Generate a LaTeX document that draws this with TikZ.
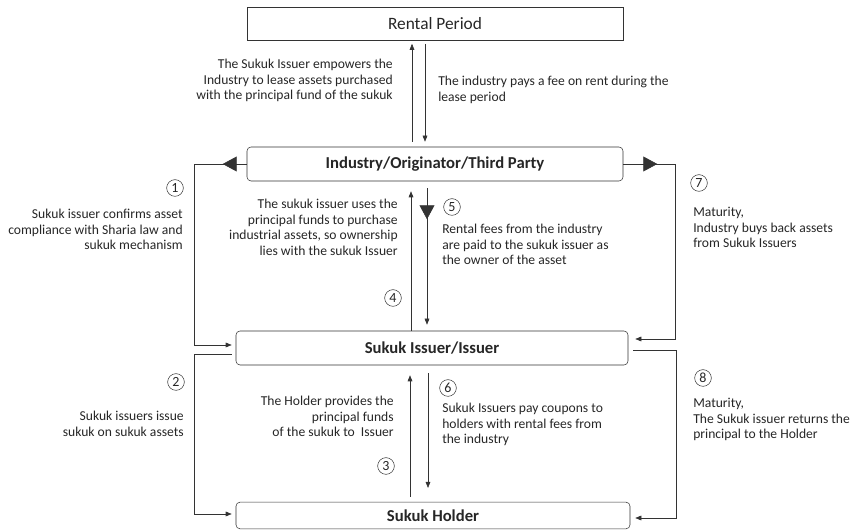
\documentclass[tikz,border=0pt]{standalone}
\usepackage{fontspec}
\setmainfont{Carlito}
\usetikzlibrary{arrows.meta,calc,decorations.markings}

\begin{document}
\begin{tikzpicture}[x=0.75pt,y=-0.75pt,
    every node/.style={text=black!85},
    txt/.style={font=\fontsize{10.2}{11.7}\selectfont, inner sep=0pt},
    num/.style={circle, draw=black!80, inner sep=0pt, minimum size=12.5pt, font=\fontsize{10.5}{11}\selectfont},
    sqbox/.style={draw=black!80, minimum width=282pt, minimum height=24.75pt, font=\fontsize{13}{15}\selectfont},
    rbox/.style={draw=black!80, rounded corners=3pt, minimum height=25.5pt, font=\bfseries\fontsize{12.5}{14}\selectfont},
    arr/.style={draw=black!80, -{Triangle[length=4.5pt,width=3.5pt]}},
    bigtip/.style={postaction=decorate, decoration={markings, mark=at position #1 with {\arrow{Triangle[length=10.5pt,width=11.25pt]}}}}]
  \useasboundingbox (0,0) rectangle (851,530);

  \node[sqbox] (rent) at (435,24) {Rental Period};
  \node[rbox, minimum width=282pt] (ind) at (435,164) {Industry/Originator/Third Party};
  \node[rbox, minimum width=294pt] (iss) at (432,348) {Sukuk Issuer/Issuer};
  \node[rbox, minimum width=295.5pt, minimum height=20pt] (hold) at (433,515.5) {Sukuk Holder};

  \draw[arr] ($(ind.north)+(-23,-5)$) -- ($(rent.south)+(-23,3)$);
  \draw[arr] ($(rent.south)+(-10,3)$) -- ($(ind.north)+(-10,-5)$);
  \node[txt, anchor=north east, align=right] (t0a) at (393,59) {The Sukuk Issuer empowers the\\Industry to lease assets purchased\\with the principal fund of the sukuk};
  \node[txt, anchor=north west, align=left] (t0b) at (438,76) {The industry pays a fee on rent during the\\lease period};

  \draw[arr] ($(iss.north)+(-21,0)$) -- ($(ind.south)+(-24,10)$);
  \draw[arr, bigtip=23.25pt] ($(ind.south)+(-8,7)$) -- ($(iss.north)+(-5,-6)$);
  \draw[arr] ($(hold.north)+(-23,-5)$) -- ($(iss.south)+(-22,10)$);
  \draw[arr] ($(iss.south)+(-4,8)$) -- ($(hold.north)+(-5,-14)$);

  \draw[arr, bigtip=18pt] (ind.west) -- ++(-52,0) |- ($(iss.west)+(-4,-3)$);
  \draw[arr] ($(iss.west)+(-4,6)$) -- ++(-37,0) |- ($(hold.west)+(-4,-1.5)$);
  \draw[arr, bigtip=25.5pt] (ind.east) -- ++(52,0) |- ($(iss.east)+(7,-9)$);
  \draw[arr] ($(iss.east)+(5,2)$) -- ++(43,0) |- ($(hold.east)+(5,2.5)$);

  \node[num] (n1) at (175,188) {1};
  \node[num] (n2) at (176,382) {2};
  \node[num] (n3) at (386,466) {3};
  \node[num] (n4) at (393,298) {4};
  \node[num] (n5) at (452,207) {5};
  \node[num] (n6) at (448,388) {6};
  \node[num] (n7) at (699,183) {7};
  \node[num] (n8) at (703,378) {8};

  \node[txt, anchor=north east, align=right] (t1) at (183,209) {Sukuk issuer confirms asset\\compliance with Sharia law and\\sukuk mechanism};
  \node[txt, anchor=north east, align=right] (t4) at (398,199) {The sukuk issuer uses the\\principal funds to purchase\\industrial assets, so ownership\\lies with the sukuk Issuer};
  \node[txt, anchor=north west, align=left] (t5) at (442,224) {Rental fees from the industry\\are paid to the sukuk issuer as\\the owner of the asset};
  \node[txt, anchor=north west, align=left] (t7) at (693,207) {Maturity,\\Industry buys back assets\\from Sukuk Issuers};
  \node[txt, anchor=north east, align=right] (t2) at (184,411) {Sukuk issuers issue\\sukuk on sukuk assets};
  \node[txt, anchor=north east, align=right] (t3) at (394,396) {The Holder provides the\\principal funds\\of the sukuk to~~Issuer};
  \node[txt, anchor=north west, align=left] (t6) at (442,403) {Sukuk Issuers pay coupons to\\holders with rental fees from\\the industry};
  \node[txt, anchor=north west, align=left] (t8) at (693,398) {Maturity,\\The Sukuk issuer returns the\\principal to the Holder};
\end{tikzpicture}
\end{document}
